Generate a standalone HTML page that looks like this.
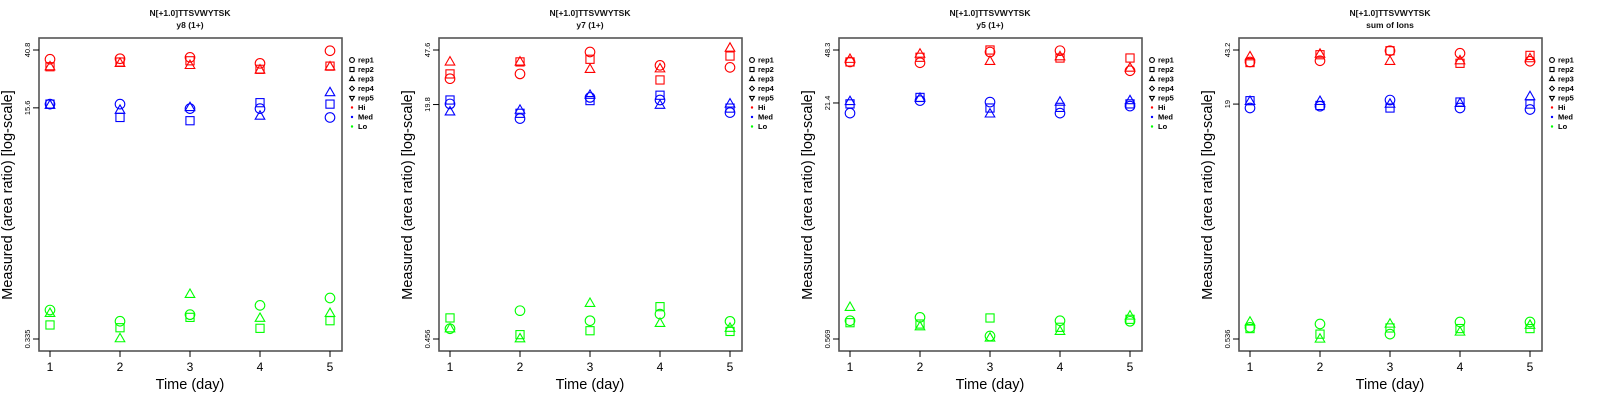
<!DOCTYPE html>
<html><head><meta charset="utf-8"><style>
html,body{margin:0;padding:0;background:#fff;}
svg{display:block;font-family:"Liberation Sans",sans-serif;}
</style></head><body>
<svg id="chart" width="1600" height="400" viewBox="0 0 1600 400" xmlns="http://www.w3.org/2000/svg"></svg>
<script>
const days = [1,2,3,4,5];
const panelTitles = ["y8 (1+)","y7 (1+)","y5 (1+)","sum of Ions"];
const peptide = "N[+1.0]TTSVWYTSK";
const tickTop = [40.8,47.6,48.3,43.2];
const tickMid = [15.6,19.8,21.4,19];
const tickBot = [0.335,0.456,0.569,0.536];
const groupNames = ["Hi","Med","Lo"];
const repNames = ["rep1","rep2","rep3","rep4","rep5"];
const p1Hi = [[35.0,35.3,36.1,32.7,40.3],[30.9,33.4,34.1,29.6,31.2],[30.9,32.7,31.6,29.3,30.9]];
const p1Med = [[16.6,16.6,15.4,15.4,13.3],[16.6,13.3,12.6,17.0,16.6],[16.3,15.0,15.7,13.6,20.1]];
const p1Lo = [[0.542,0.450,0.502,0.586,0.662],[0.423,0.404,0.480,0.400,0.454],[0.513,0.337,0.704,0.473,0.513]];
const p2Hi = [[30.0,32.4,46.1,37.2,36.0],[32.4,39.3,41.0,29.4,43.2],[39.3,39.3,34.9,35.2,49.1]];
const p2Med = [[20.0,15.8,22.2,21.3,17.4],[21.3,17.2,21.1,23.0,18.7],[17.6,18.1,23.0,19.6,20.0]];
const p2Lo = [[0.538,0.719,0.612,0.681,0.606],[0.640,0.489,0.521,0.767,0.515],[0.538,0.458,0.810,0.587,0.543]];
const p3Hi = [[40.2,39.7,46.8,47.8,35.1],[40.2,43.2,48.3,42.7,42.7],[41.9,45.4,40.6,43.6,36.6]];
const p3Med = [[18.3,22.2,21.7,18.3,20.4],[21.1,23.3,19.8,20.0,21.1],[21.9,23.0,18.1,21.7,22.2]];
const p3Lo = [[0.753,0.794,0.596,0.753,0.747],[0.731,0.716,0.786,0.681,0.770],[0.926,0.687,0.578,0.640,0.811]];
const p4Hi = [[36.0,36.7,42.7,41.1,36.4],[35.7,40.2,42.7,35.3,39.8],[39.0,40.6,36.4,36.7,37.9]];
const p4Med = [[17.9,18.4,20.2,17.9,17.5],[20.0,18.6,17.9,19.6,19.0],[19.8,19.8,19.0,19.2,21.3]];
const p4Lo = [[0.640,0.673,0.577,0.694,0.694],[0.628,0.577,0.634,0.628,0.628],[0.694,0.536,0.673,0.596,0.661]];
const values = [[p1Hi,p1Med,p1Lo],[p2Hi,p2Med,p2Lo],[p3Hi,p3Med,p3Lo],[p4Hi,p4Med,p4Lo]];

const colors = ["#ff0000","#0000ff","#00ff00"];
const NS = "http://www.w3.org/2000/svg";
const svg = document.getElementById("chart");
function mk(tag, attrs, parent, text){
  const e = document.createElementNS(NS, tag);
  for (const k in attrs) e.setAttribute(k, attrs[k]);
  if (text !== undefined) e.textContent = text;
  parent.appendChild(e);
  return e;
}
function marker(shape, cx, cy, color, parent, r){
  let e;
  if (shape === 0) e = mk("circle",{cx:cx,cy:cy,r:r,fill:"none",stroke:color,"stroke-width":1.1},parent);
  else if (shape === 1) e = mk("rect",{x:cx-r*0.85,y:cy-r*0.85,width:r*1.7,height:r*1.7,fill:"none",stroke:color,"stroke-width":1.1},parent);
  else if (shape === 2) e = mk("polygon",{points:`${cx},${cy-r*1.1} ${cx+r},${cy+r*0.65} ${cx-r},${cy+r*0.65}`,fill:"none",stroke:color,"stroke-width":1.1},parent);
  else if (shape === 3) e = mk("polygon",{points:`${cx},${cy-r} ${cx+r},${cy} ${cx},${cy+r} ${cx-r},${cy}`,fill:"none",stroke:color,"stroke-width":1.1},parent);
  else e = mk("polygon",{points:`${cx},${cy+r*1.1} ${cx+r},${cy-r*0.65} ${cx-r},${cy-r*0.65}`,fill:"none",stroke:color,"stroke-width":1.1},parent);
  return e;
}

for (let p = 0; p < 4; p++){
  const ox = p*400;
  const g = mk("g",{transform:`translate(${ox},0)`},svg);
  
  
  const x0 = 39, x1 = 342, y0 = 38, y1 = 351;
  const xs = d => 50 + (d-1)*70;
  const lt = Math.log(tickTop[p]), lb = Math.log(tickBot[p]);
  const ys = v => 50 + (lt - Math.log(v))/(lt - lb)*289;

  const t1 = mk("text",{x:190,y:16,"text-anchor":"middle","font-size":"8.5px","font-weight":"bold",fill:"#111"},g,peptide);
  
  
  const t2 = mk("text",{x:190,y:28,"text-anchor":"middle","font-size":"8.5px","font-weight":"bold",fill:"#111"},g,panelTitles[p]);
  
  

  const box = mk("rect",{x:x0,y:y0,width:x1-x0,height:y1-y0,fill:"none",stroke:"#555","stroke-width":1.6},g);
  
  

  days.forEach(d => {
    const tk = mk("line",{x1:xs(d),x2:xs(d),y1:y1,y2:y1+6,stroke:"#000","stroke-width":1},g);
    
    
    const tl = mk("text",{x:xs(d),y:371,"text-anchor":"middle","font-size":"12px",fill:"#000"},g,String(d));
    
    
  });
  [tickTop[p],tickMid[p],tickBot[p]].forEach(v => {
    const yy = ys(v);
    const tk = mk("line",{x1:x0-6,x2:x0,y1:yy,y2:yy,stroke:"#000","stroke-width":1},g);
    
    
    const tl = mk("text",{x:0,y:0,"text-anchor":"middle","font-size":"7.5px",fill:"#000",transform:`translate(30,${yy}) rotate(-90)`},g,String(v));
    
    
  });
  const xt = mk("text",{x:190,y:389,"text-anchor":"middle","font-size":"14.5px",fill:"#000"},g,"Time (day)");
  
  
  const yt = mk("text",{x:0,y:0,"text-anchor":"middle","font-size":"14.5px",fill:"#000",transform:"translate(12,195) rotate(-90)"},g,"Measured (area ratio) [log-scale]");
  
  

  for (let gi = 0; gi < 3; gi++){
    const reps = values[p][gi];
    for (let r = 0; r < reps.length; r++){
      reps[r].forEach((v,i) => {
        const m = marker(r, xs(days[i]), ys(v), colors[gi], g, 4.8);
        
        
      });
    }
  }

  const lg = mk("g",{},g);
  
  
  const ly0 = 60, ldy = 9.5;
  repNames.forEach((n,i) => {
    const yy = ly0 + i*ldy;
    const m = marker(i, 352, yy, "#000", lg, 2.4);
    
    
    const t = mk("text",{x:358,y:yy+2.6,"font-size":"7.5px","font-weight":"bold",fill:"#000"},lg,n);
    
    
  });
  groupNames.forEach((n,i) => {
    const yy = ly0 + (5+i)*ldy;
    const c = mk("circle",{cx:352,cy:yy,r:1.2,fill:colors[i]},lg);
    
    
    const t = mk("text",{x:358,y:yy+2.6,"font-size":"7.5px","font-weight":"bold",fill:"#000"},lg,n);
    
    
  });
}
</script>
</body></html>
